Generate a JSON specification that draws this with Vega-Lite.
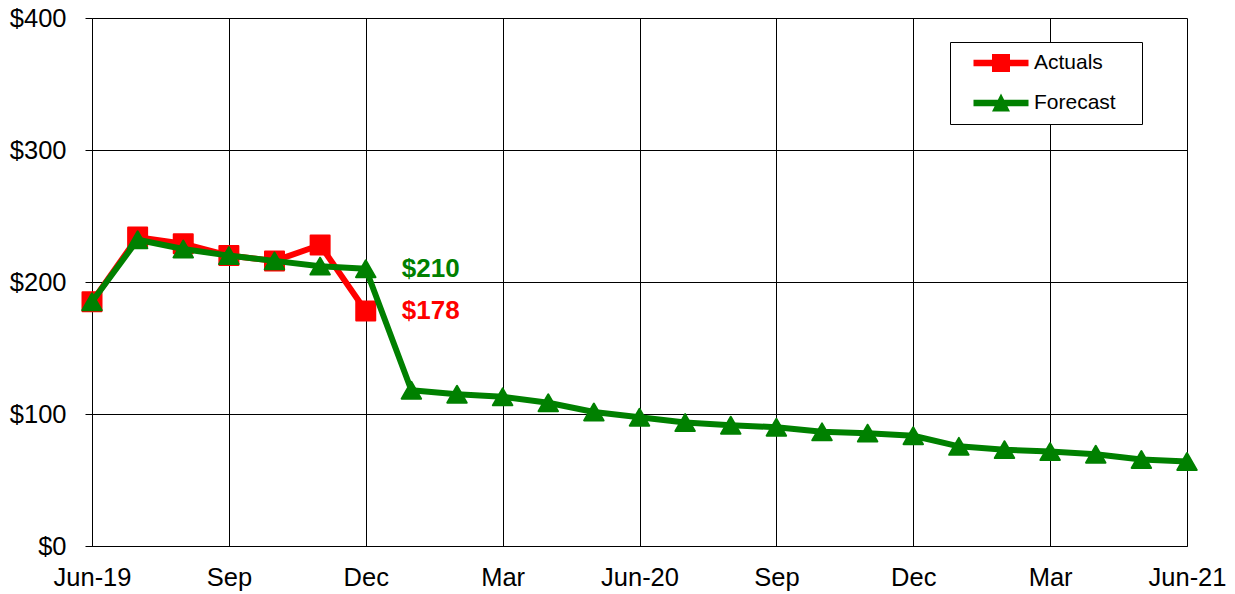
{
  "$schema": "https://vega.github.io/schema/vega-lite/v6.json",
  "width": 1095,
  "height": 528,
  "autosize": {"type": "none"},
  "padding": {"left": 92, "top": 18, "right": 48, "bottom": 48},
  "background": "white",
  "datasets": {
    "series": [
      {"m": 0, "series": "Actuals", "v": 185},
      {"m": 1, "series": "Actuals", "v": 234},
      {"m": 2, "series": "Actuals", "v": 229},
      {"m": 3, "series": "Actuals", "v": 220},
      {"m": 4, "series": "Actuals", "v": 216},
      {"m": 5, "series": "Actuals", "v": 228},
      {"m": 6, "series": "Actuals", "v": 178},
      {"m": 0, "series": "Forecast", "v": 185},
      {"m": 1, "series": "Forecast", "v": 232},
      {"m": 2, "series": "Forecast", "v": 225},
      {"m": 3, "series": "Forecast", "v": 220},
      {"m": 4, "series": "Forecast", "v": 216},
      {"m": 5, "series": "Forecast", "v": 212},
      {"m": 6, "series": "Forecast", "v": 210},
      {"m": 7, "series": "Forecast", "v": 118},
      {"m": 8, "series": "Forecast", "v": 115},
      {"m": 9, "series": "Forecast", "v": 113},
      {"m": 10, "series": "Forecast", "v": 108.5},
      {"m": 11, "series": "Forecast", "v": 101.5},
      {"m": 12, "series": "Forecast", "v": 97.5},
      {"m": 13, "series": "Forecast", "v": 93.5},
      {"m": 14, "series": "Forecast", "v": 91.5},
      {"m": 15, "series": "Forecast", "v": 90},
      {"m": 16, "series": "Forecast", "v": 86.5},
      {"m": 17, "series": "Forecast", "v": 85.5},
      {"m": 18, "series": "Forecast", "v": 83.5},
      {"m": 19, "series": "Forecast", "v": 75.5},
      {"m": 20, "series": "Forecast", "v": 73},
      {"m": 21, "series": "Forecast", "v": 71.5},
      {"m": 22, "series": "Forecast", "v": 69.5},
      {"m": 23, "series": "Forecast", "v": 65.5},
      {"m": 24, "series": "Forecast", "v": 64}
    ],
    "labels": [
      {"m": 6, "series": "Forecast", "v": 210, "label": "$210"},
      {"m": 6, "series": "Actuals", "v": 178, "label": "$178"}
    ]
  },
  "config": {
    "view": {"stroke": null},
    "axis": {
      "labelFont": "Liberation Sans",
      "labelFontSize": 25.5,
      "labelColor": "black",
      "domainColor": "black",
      "gridColor": "black",
      "gridWidth": 1,
      "gridOpacity": 1,
      "tickColor": "black",
      "title": null
    },
    "legend": {
      "labelFont": "Liberation Sans",
      "labelFontSize": 21,
      "labelColor": "black"
    }
  },
  "encoding": {
    "x": {
      "field": "m",
      "type": "quantitative",
      "scale": {"domain": [0, 24], "nice": false, "zero": false},
      "axis": {
        "values": [0, 3, 6, 9, 12, 15, 18, 21, 24],
        "labelExpr": "['Jun-19','Sep','Dec','Mar','Jun-20','Sep','Dec','Mar','Jun-21'][round(datum.value/3)]",
        "ticks": false,
        "labelPadding": 19,
        "labelFlush": false,
        "labelOverlap": false,
        "labelBound": false,
        "domain": true
      }
    },
    "y": {
      "field": "v",
      "type": "quantitative",
      "scale": {"domain": [0, 400], "nice": false},
      "axis": {
        "values": [0, 100, 200, 300, 400],
        "labelExpr": "'$' + datum.value",
        "tickSize": 7,
        "labelPadding": 19,
        "labelOverlap": false
      }
    },
    "color": {
      "field": "series",
      "type": "nominal",
      "scale": {"domain": ["Actuals", "Forecast"], "range": ["#ff0000", "#008000"]},
      "legend": {
        "title": null,
        "orient": "none",
        "legendX": 858,
        "legendY": 24,
        "strokeColor": "black",
        "fillColor": "white",
        "padding": 10.5,
        "rowPadding": 18,
        "labelOffset": 52.5,
        "symbolSize": 100,
        "labelExpr": "datum.label + '\u2800'",
        "encode": {
          "symbols": {
            "update": {
              "shape": {"signal": "datum.value === 'Actuals' ? 'M0.5,-0.65H11.5V0.65H0.5Z M4.2,-1.8H7.8V1.8H4.2Z' : 'M0.5,-0.65H11.5V0.65H0.5Z M4.2,1.7L6,-1.9L7.8,1.7Z'"},
              "fill": {"signal": "scale('color', datum.value)"},
              "stroke": {"value": "transparent"},
              "strokeWidth": {"value": 0},
              "opacity": {"value": 1},
              "fillOpacity": {"value": 1}
            }
          }
        }
      }
    }
  },
  "layer": [
    {
      "data": {"name": "series"},
      "transform": [{"filter": "datum.series === 'Actuals'"}],
      "mark": {"type": "line", "strokeWidth": 6, "strokeJoin": "round"}
    },
    {
      "data": {"name": "series"},
      "transform": [{"filter": "datum.series === 'Actuals'"}],
      "mark": {"type": "point", "shape": "square", "filled": true, "size": 361, "opacity": 1, "strokeWidth": 2, "strokeJoin": "round"},
      "encoding": {"stroke": {"field": "series", "type": "nominal", "scale": {"domain": ["Actuals", "Forecast"], "range": ["#ff0000", "#008000"]}, "legend": null}}
    },
    {
      "data": {"name": "series"},
      "transform": [{"filter": "datum.series === 'Forecast'"}],
      "mark": {"type": "line", "strokeWidth": 6, "strokeJoin": "round"}
    },
    {
      "data": {"name": "series"},
      "transform": [{"filter": "datum.series === 'Forecast'"}],
      "mark": {"type": "point", "shape": "triangle-up", "filled": true, "size": 380, "opacity": 1, "strokeWidth": 2, "strokeJoin": "round"},
      "encoding": {"stroke": {"field": "series", "type": "nominal", "scale": {"domain": ["Actuals", "Forecast"], "range": ["#ff0000", "#008000"]}, "legend": null}}
    },
    {
      "data": {"name": "labels"},
      "mark": {"type": "text", "align": "left", "baseline": "middle", "dx": 36, "font": "Liberation Sans", "fontWeight": "bold", "fontSize": 26},
      "encoding": {"text": {"field": "label", "type": "nominal"}}
    }
  ]
}
